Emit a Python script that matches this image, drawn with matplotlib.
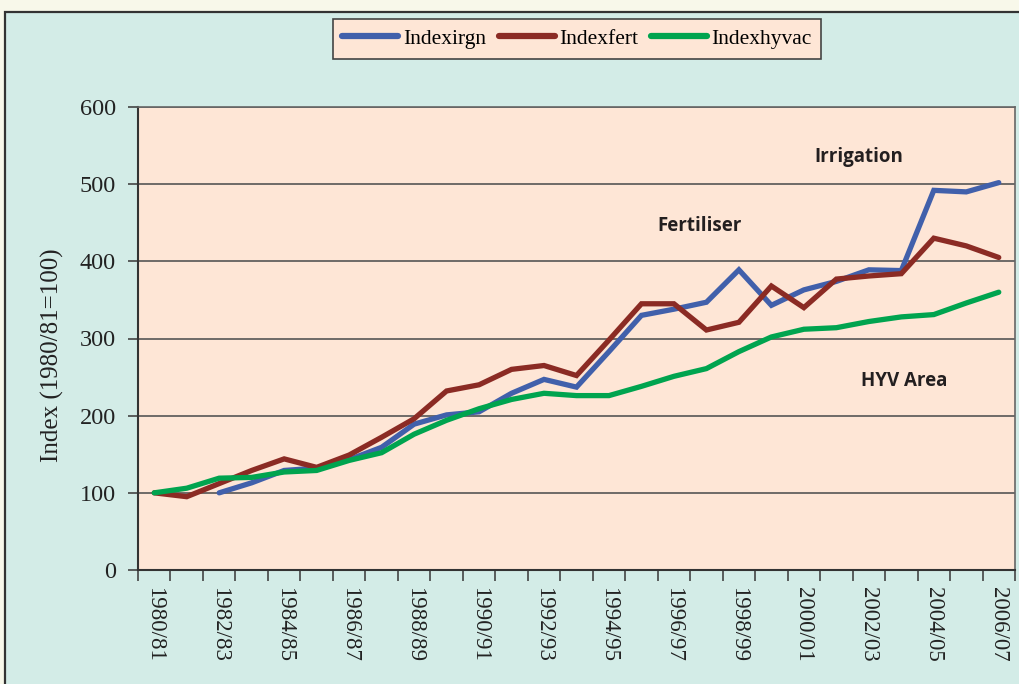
#!/usr/bin/env python3
"""Index of irrigation, fertiliser use and HYV area, 1980/81 = 100."""

import matplotlib
matplotlib.use('Agg')
import matplotlib.pyplot as plt
from matplotlib.patches import Rectangle

years = ['1980/81', '1981/82', '1982/83', '1983/84', '1984/85', '1985/86',
         '1986/87', '1987/88', '1988/89', '1989/90', '1990/91', '1991/92',
         '1992/93', '1993/94', '1994/95', '1995/96', '1996/97', '1997/98',
         '1998/99', '1999/00', '2000/01', '2001/02', '2002/03', '2003/04',
         '2004/05', '2005/06', '2006/07']

# irrigation series starts in 1982/83
indexirgn = [None, None, 100, 113, 129, 132, 143, 159, 189, 201, 205, 229,
             247, 237, 283, 330, 338, 347, 389, 343, 363, 374, 389, 388,
             492, 490, 502]
indexfert = [100, 95, 112, 129, 144, 133, 149, 172, 196, 232, 240, 260,
             265, 252, 298, 345, 345, 311, 321, 368, 340, 377, 381, 384,
             430, 420, 405]
indexhyvac = [100, 106, 119, 120, 127, 129, 142, 152, 176, 194, 209, 221,
              229, 226, 226, 238, 251, 261, 283, 302, 312, 314, 322, 328,
              331, 346, 360]

series_names = ['Indexirgn', 'Indexfert', 'Indexhyvac']
series_colors = ['#4160ab', '#8b2b24', '#00a44f']

annotations = [('Irrigation', 21.7, 535),
               ('Fertiliser', 16.8, 446),
               ('HYV Area', 23.1, 245)]

PEACH = '#fee6d6'
MINT = '#d3ece7'
SERIF = ['Liberation Serif', 'DejaVu Serif']

fig = plt.figure(figsize=(10.2, 6.84), dpi=100)
fig.patch.set_facecolor('#f8f8ea')

# mint panel with dark border behind the chart
panel = Rectangle((5 / 1020, -0.05), 1.2, 0.05 + 1 - 12 / 684,
                  transform=fig.transFigure, facecolor=MINT,
                  edgecolor='#333333', linewidth=1.6, zorder=-5)
fig.patches.append(panel)

ax = fig.add_axes([138 / 1020, 1 - 570 / 684, (1015 - 138) / 1020, (570 - 107) / 684])
ax.set_zorder(2)
ax.set_facecolor(PEACH)

x = list(range(len(years)))
for name, values, color in zip(series_names, [indexirgn, indexfert, indexhyvac], series_colors):
    pts = [(i, v) for i, v in zip(x, values) if v is not None]
    ax.plot([p[0] for p in pts], [p[1] for p in pts], color=color,
            linewidth=3.8, solid_capstyle='round', solid_joinstyle='miter',
            label=name, zorder=3)

ax.set_xlim(-0.5, len(years) - 0.5)
ax.set_ylim(0, 600)
ax.set_yticks(range(0, 601, 100))
ax.yaxis.grid(True, color='#555555', linewidth=1.2)
ax.set_axisbelow(True)

ax.set_xticks(x[::2])
ax.set_xticklabels(years[::2], rotation=270, fontsize=16.5, family=SERIF,
                   color='#222222', va='top', ha='center')
ax.set_xticks([i - 0.5 for i in range(len(years) + 1)], minor=True)
ax.tick_params(axis='x', which='major', length=0, pad=12)
ax.tick_params(axis='x', which='minor', length=8, width=1.2, color='#444444')
ax.tick_params(axis='y', length=7, width=1.2, color='#444444', pad=9)
for lbl in ax.get_yticklabels():
    lbl.set_fontsize(17.5)
    lbl.set_family(SERIF)
    lbl.set_color('#222222')

ax.set_ylabel('Index (1980/81=100)', fontsize=18, family=SERIF,
              color='#222222')
ax.yaxis.set_label_coords(-0.084, 0.465)

for side in ['top', 'right']:
    ax.spines[side].set_color('#666666')
    ax.spines[side].set_linewidth(1.2)
for side in ['left', 'bottom']:
    ax.spines[side].set_color('#333333')
    ax.spines[side].set_linewidth(1.5)

for text, xi, yi in annotations:
    ax.text(xi, yi, text, fontsize=13.5, fontweight='bold',
            family=['Open Sans', 'DejaVu Sans'], color='#231f20',
            ha='center', va='center', zorder=4)

leg = fig.legend(loc='center', bbox_to_anchor=(577 / 1020, 1 - 39 / 684),
                 ncol=3, frameon=True, fancybox=False, handlelength=2.6,
                 handletextpad=0.2, columnspacing=0.6, borderpad=0.45,
                 prop={'family': SERIF, 'size': 15.5})
leg.get_frame().set_facecolor(PEACH)
leg.get_frame().set_edgecolor('#444444')
leg.get_frame().set_linewidth(1.2)
leg.get_frame().set_alpha(1)
for handle in leg.get_lines():
    handle.set_linewidth(4.5)

fig.savefig('out.png', dpi=100, facecolor=fig.get_facecolor())
